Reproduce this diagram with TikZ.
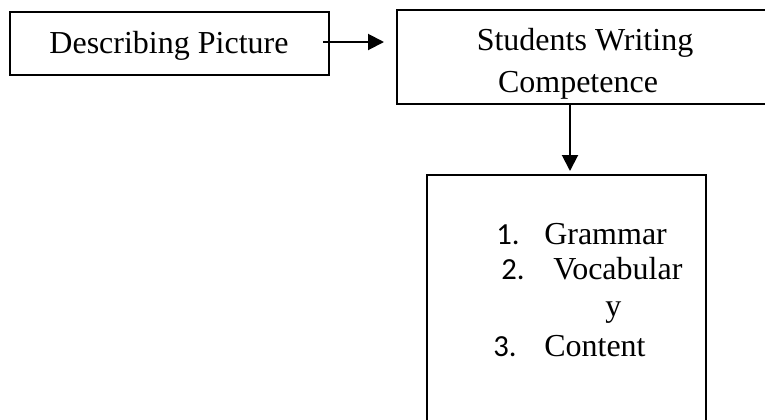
\documentclass[tikz,border=0pt]{standalone}
\usepackage{fontspec}
\setmainfont{Liberation Serif}
\newfontfamily\numfont{Carlito}
\usetikzlibrary{arrows.meta}
\begin{document}
\begin{tikzpicture}[x=0.75pt,y=-0.75pt,
  boxstyle/.style={draw=black,line width=1.5pt,rectangle,inner sep=0pt},
  txt/.style={inner sep=0pt,font=\fontsize{24pt}{24pt}\selectfont},
  num/.style={inner sep=0pt,font=\numfont\fontsize{23pt}{23pt}\selectfont},
  arr/.style={line width=1.5pt,-{Triangle[length=12pt,width=12pt]}}]
\useasboundingbox (0,0) rectangle (765,419);
\clip (0,0) rectangle (765,419);
% boxes
\node[boxstyle,minimum width=319*0.75pt,minimum height=63*0.75pt] (box1) at (169.5,43.5) {};
\node[boxstyle,minimum width=370*0.75pt,minimum height=94*0.75pt] (box2) at (582,57) {};
\node[boxstyle,minimum width=279*0.75pt,minimum height=250*0.75pt] (box3) at (566.5,300) {};
% texts
\node[txt,anchor=base] (t1) at (169,53) {Describing Picture};
\node[txt,anchor=base] (t2a) at (585,50) {Students Writing};
\node[txt,anchor=base] (t2b) at (578,92) {Competence};
\node[num,anchor=base west] (n1) at (496,244) {1.};
\node[txt,anchor=base west] (i1) at (544,244) {Grammar};
\node[num,anchor=base west] (n2) at (501,279) {2.};
\node[txt,anchor=base west] (i2) at (553,279) {Vocabular};
\node[txt,anchor=base west] (i2b) at (605,316) {y};
\node[num,anchor=base west] (n3) at (493,356) {3.};
\node[txt,anchor=base west] (i3) at (544,356) {Content};
% connectors
\coordinate (a1s) at (323,42);
\coordinate (a2s) at (570,104);
\draw[arr,shorten >=12*0.75pt] (a1s) -- (a1s -| box2.west);
\draw[arr,shorten >=3*0.75pt] (a2s) -- (a2s |- box3.north);
\end{tikzpicture}
\end{document}
